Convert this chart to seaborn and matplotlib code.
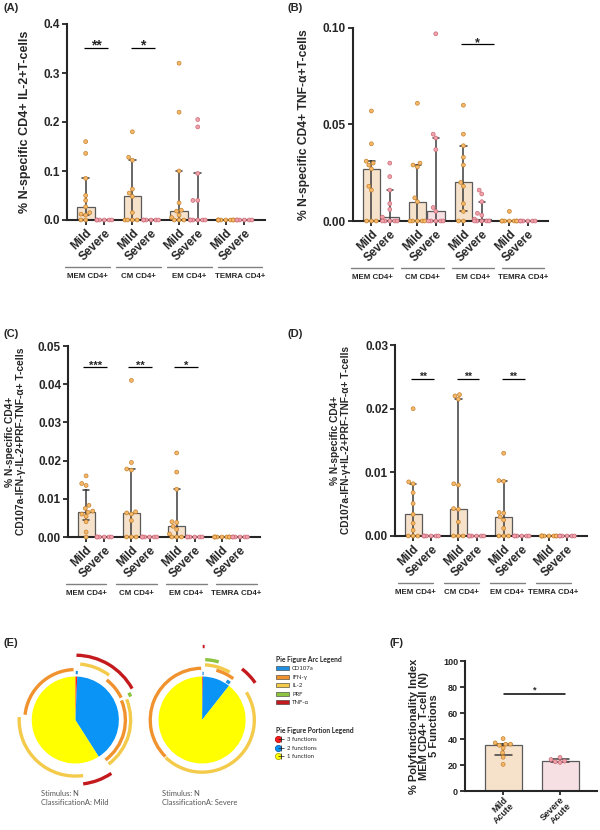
import numpy as np
import pandas as pd
import matplotlib
matplotlib.use("Agg")
import matplotlib.pyplot as plt
import seaborn as sns
from matplotlib.patches import Arc, Patch
from matplotlib.lines import Line2D
from matplotlib.legend_handler import HandlerTuple
from matplotlib.transforms import offset_copy
from matplotlib.ticker import FormatStrFormatter, MultipleLocator
from matplotlib.colors import to_rgb

# Subconjuntos e grupos
subsets = ["MEM CD4+", "CM CD4+", "EM CD4+", "TEMRA CD4+"]
groups = ["Mild", "Severe"]

# (A) IL-2+
il2_mild = [
    [0.16, 0.136, 0.085, 0.05, 0.04, 0.027, 0.015, 0.012, 0.01, 0.0, 0.0],
    [0.18, 0.128, 0.122, 0.063, 0.055, 0.048, 0.015, 0.0, 0.0, 0.0, 0.0],
    [0.32, 0.22, 0.1, 0.035, 0.02, 0.018, 0.01, 0.005, 0.0, 0.0, 0.0],
    [0.0, 0.0, 0.0, 0.0, 0.0, 0.0, 0.0, 0.0],
]
il2_severe = [
    [0.0, 0.0, 0.0, 0.0, 0.0, 0.0],
    [0.0, 0.0, 0.0, 0.0, 0.0, 0.0],
    [0.205, 0.19, 0.095, 0.04, 0.04, 0.0, 0.0, 0.0, 0.0, 0.0, 0.0],
    [0.0, 0.0, 0.0, 0.0, 0.0, 0.0],
]
il2_sig = ["**", "*", "", ""]

# (B) TNF-a+
tnf_mild = [
    [0.057, 0.040, 0.031, 0.030, 0.029, 0.027, 0.018, 0.016, 0.0, 0.0, 0.0],
    [0.061, 0.030, 0.029, 0.028, 0.012, 0.010, 0.0, 0.0, 0.0, 0.0, 0.0],
    [0.060, 0.045, 0.039, 0.033, 0.029, 0.020, 0.018, 0.009, 0.005, 0.0, 0.0],
    [0.005, 0.0, 0.0, 0.0, 0.0, 0.0, 0.0, 0.0],
]
tnf_severe = [
    [0.030, 0.023, 0.016, 0.009, 0.006, 0.002, 0.0, 0.0, 0.0, 0.0, 0.0],
    [0.097, 0.045, 0.043, 0.037, 0.007, 0.005, 0.0, 0.0, 0.0, 0.0, 0.0],
    [0.016, 0.014, 0.010, 0.004, 0.003, 0.001, 0.0, 0.0, 0.0, 0.0, 0.0],
    [0.0, 0.0, 0.0, 0.0, 0.0, 0.0],
]
tnf_sig = ["", "", "*", ""]

# (C) CD107a-IFN-g-IL-2+PRF-TNF-a+
c_mild = [
    [0.016, 0.014, 0.0135, 0.0083, 0.0075, 0.0068, 0.0065, 0.006, 0.0054, 0.004, 0.0013, 0.0],
    [0.041, 0.0195, 0.0178, 0.0175, 0.0066, 0.0063, 0.006, 0.0043, 0.0, 0.0, 0.0],
    [0.022, 0.017, 0.0125, 0.004, 0.0038, 0.0028, 0.002, 0.0008, 0.0, 0.0, 0.0],
    [0.0, 0.0, 0.0, 0.0, 0.0, 0.0, 0.0, 0.0],
]
c_severe = [
    [0.0, 0.0, 0.0, 0.0, 0.0, 0.0],
    [0.0, 0.0, 0.0, 0.0, 0.0, 0.0],
    [0.0, 0.0, 0.0, 0.0, 0.0, 0.0],
    [0.0, 0.0, 0.0, 0.0, 0.0, 0.0],
]
c_sig = ["***", "**", "*", ""]

# (D) CD107a-IFN-g+IL-2+PRF-TNF-a+
d_mild = [
    [0.020, 0.0085, 0.0082, 0.0068, 0.0051, 0.0034, 0.002, 0.0009, 0.0, 0.0, 0.0],
    [0.0222, 0.022, 0.0215, 0.0082, 0.008, 0.0043, 0.0042, 0.0022, 0.0, 0.0, 0.0],
    [0.013, 0.0087, 0.0086, 0.0037, 0.0036, 0.003, 0.0025, 0.0012, 0.0, 0.0, 0.0],
    [0.0, 0.0, 0.0, 0.0, 0.0, 0.0, 0.0, 0.0],
]
d_severe = [
    [0.0, 0.0, 0.0, 0.0, 0.0, 0.0],
    [0.0, 0.0, 0.0, 0.0, 0.0, 0.0],
    [0.0, 0.0, 0.0, 0.0, 0.0, 0.0],
    [0.0, 0.0, 0.0, 0.0, 0.0, 0.0],
]
d_sig = ["**", "**", "**", ""]

# (E) pizzas SPICE
portion_labels = ["3 functions", "2 functions", "1 function"]
pie_mild = [0.7, 40.3, 59.0]
pie_severe = [0.3, 10.3, 89.4]
arc_funcs = ["CD107a", "IFN-γ", "IL-2", "PRF", "TNF-α"]
# arcos: funcao, inicio e fim (graus, horario a partir do topo), anel
arc_mild_func = ["CD107a", "IFN-γ", "IL-2", "TNF-α", "IFN-γ", "PRF", "IFN-γ", "IL-2", "TNF-α", "IL-2"]
arc_mild_start = [0.5, 276, 5, 1, 38, 63, 67, 68, 146, 172]
arc_mild_end = [3, 358, 37, 61, 64, 67, 143, 143, 173, 273]
arc_mild_ring = [1.09, 1.16, 1.29, 1.49, 1.17, 1.38, 1.15, 1.27, 1.48, 1.29]
arc_severe_func = ["CD107a", "IFN-γ", "IL-2", "IL-2", "IFN-γ", "CD107a", "PRF", "TNF-α", "TNF-α"]
arc_severe_start = [0.5, 225, 58, 3, 16, 32, 3, 38, 0.5]
arc_severe_end = [2, 359, 224, 30, 37, 37, 16, 55, 2]
arc_severe_ring = [1.07, 1.19, 1.2, 1.27, 1.19, 1.06, 1.39, 1.49, 1.69]

# (F) indice de polifuncionalidade
poly_labels = ["Mild\nAcute", "Severe\nAcute"]
poly_mild = [40.3, 37.0, 36.0, 36.0, 35.2, 33.0, 29.5, 26.0, 20.5]
poly_severe = [25.8, 24.2, 23.0, 22.5, 22.0]

# Estilo
sns.set_style("ticks")
plt.rcParams["font.family"] = ["Liberation Sans", "DejaVu Sans"]
plt.rcParams["font.weight"] = "bold"
plt.rcParams["axes.labelweight"] = "bold"

bar_colors = {"Mild": "#FDE2C4", "Severe": "#FBDCE1"}
dot_colors = {"Mild": "#F7B867", "Severe": "#F2A2AB"}
dot_edges = {"Mild": "#C4812F", "Severe": "#C96B78"}
portion_colors = ["#FF1A1A", "#0A94F5", "#FFFF00"]
portion_edges = ["#A00000", "#0050A0", "#A0A000"]
arc_colors = {"CD107a": "#1E8FE1", "IFN-γ": "#F0922E", "IL-2": "#F4CA4A",
              "PRF": "#8CC440", "TNF-α": "#C41A1E"}


def iqr(v):
    return (np.percentile(v, 25, method="weibull"), np.percentile(v, 75, method="weibull"))


def long_table(mild, severe):
    rows = []
    for g, subset in enumerate(subsets):
        for k, vals in enumerate((mild[g], severe[g])):
            for v in vals:
                rows.append({"subset": subset, "group": groups[k], "pos": g * 2.5 + k, "value": v})
    return pd.DataFrame(rows)


fig = plt.figure(figsize=(6, 8.3), dpi=100)


def add_ax(left, top, right, bottom):
    return fig.add_axes([left / 600, 1 - bottom / 830, (right - left) / 600, (bottom - top) / 830])


def recolor_dots(ax):
    for coll in ax.collections:
        fc = coll.get_facecolors()
        if len(fc) == 0:
            continue
        for grp in groups:
            if np.allclose(fc[0][:3], to_rgb(dot_colors[grp]), atol=0.02):
                coll.set_edgecolor(dot_edges[grp])
        coll.set_clip_on(False)
        coll.set_zorder(3)


def style_axis(ax, labelsize):
    sns.despine(ax=ax)
    for s in ("left", "bottom"):
        ax.spines[s].set_linewidth(1.5)
    ax.tick_params(width=1.3, length=3.5, labelsize=labelsize, pad=1.5)


def bar_panel(ax, mild, severe, ymax, step, fmt, ylabel, label_x, label_size,
              sig, sig_y, sig_size, sig_span, line_shift, line_half):
    data = long_table(mild, severe)
    sns.barplot(data=data, x="pos", y="value", hue="group", hue_order=groups,
                palette=bar_colors, native_scale=True, dodge=False, width=0.95,
                estimator=np.median, errorbar=iqr, capsize=0.35,
                err_kws={"color": "#3d3d3d", "linewidth": 1.1},
                edgecolor="#5a5a5a", linewidth=0.9, legend=False, ax=ax)
    sns.swarmplot(data=data, x="pos", y="value", hue="group", hue_order=groups,
                  palette=dot_colors, native_scale=True, dodge=False, size=2.8,
                  linewidth=0.5, legend=False, warn_thresh=1, ax=ax)
    recolor_dots(ax)

    for g, stars in enumerate(sig):
        if not stars:
            continue
        x0, x1 = g * 2.5 + sig_span[0], g * 2.5 + sig_span[1]
        ax.plot([x0, x1], [sig_y, sig_y], color="black", lw=0.9, solid_capstyle="butt")
        ax.annotate(stars, ((x0 + x1) / 2, sig_y), xytext=(0, -1), textcoords="offset points",
                    ha="center", va="baseline", fontsize=sig_size)

    line_tr = offset_copy(ax.get_xaxis_transform(), fig=fig, y=-34, units="points")
    text_tr = offset_copy(ax.get_xaxis_transform(), fig=fig, y=-40.5, units="points")
    for g, name in enumerate(subsets):
        c = g * 2.5 + line_shift[0] + line_shift[1] * g
        ax.plot([c - line_half, c + line_half], [0, 0], transform=line_tr,
                color="#808080", lw=1.0, clip_on=False)
        ax.text(c, 0, name, transform=text_tr, ha="center", va="center", fontsize=5.7)

    positions = [g * 2.5 + k for g in range(len(subsets)) for k in range(2)]
    ax.set_xticks(positions)
    ax.set_xticklabels(groups * len(subsets), rotation=45, ha="right",
                       rotation_mode="anchor", fontsize=9)
    ax.set_xlim(-1.0, 9.6)
    ax.set_ylim(0, ymax)
    ax.yaxis.set_major_locator(MultipleLocator(step))
    ax.yaxis.set_major_formatter(FormatStrFormatter(fmt))
    ax.set_xlabel("")
    ax.set_ylabel(ylabel, fontsize=label_size)
    ax.yaxis.set_label_coords(label_x, 0.5)
    style_axis(ax, 8.5)


ax_a = add_ax(67, 24, 265, 220)
bar_panel(ax_a, il2_mild, il2_severe, 0.4, 0.1, "%.1f",
          "% N-specific CD4+ IL-2+T-cells", -0.18, 9,
          il2_sig, 0.35, 10, (-0.1, 1.2), (0.1, 0.22), 1.2)

ax_b = add_ax(353, 28, 548, 221)
bar_panel(ax_b, tnf_mild, tnf_severe, 0.10, 0.05, "%.2f",
          "% N-specific CD4+ TNF-α+T-cells", -0.222, 8.7,
          tnf_sig, 0.0915, 9, (-0.15, 1.65), (0.03, 0.24), 1.15)

ax_c = add_ax(68, 346, 260, 537)
bar_panel(ax_c, c_mild, c_severe, 0.05, 0.01, "%.2f",
          "% N-specific CD4+\nCD107a-IFN-γ-IL-2+PRF-TNF-α+ T-cells", -0.217, 7.4,
          c_sig, 0.0445, 8, (-0.16, 1.16), (0.0, 0.27), 1.12)

ax_d = add_ax(395, 345, 587, 536)
bar_panel(ax_d, d_mild, d_severe, 0.03, 0.01, "%.2f",
          "% N-specific CD4+\nCD107a-IFN-γ+IL-2+PRF-TNF-α+ T-cells", -0.227, 7.3,
          d_sig, 0.0247, 7.5, (-0.1, 1.16), (0.14, 0.04), 0.97)

# (E) pizzas
ax_e = add_ax(10, 650, 270, 790)
pies = [
    (0.0, pie_mild, arc_mild_func, arc_mild_start, arc_mild_end, arc_mild_ring),
    (2.91, pie_severe, arc_severe_func, arc_severe_start, arc_severe_end, arc_severe_ring),
]
for cx, shares, funcs, starts, ends, rings in pies:
    ax_e.pie(shares, colors=portion_colors, startangle=90, counterclock=False,
             center=(cx, 0), radius=1, wedgeprops={"linewidth": 0})
    for func, a0, a1, r in zip(funcs, starts, ends, rings):
        ax_e.add_patch(Arc((cx, 0), 2 * r, 2 * r, theta1=90 - a1, theta2=90 - a0,
                           edgecolor=arc_colors[func], lw=2.4, clip_on=False))
ax_e.set_xlim(-1.5, 4.47)
ax_e.set_ylim(-1.61, 1.61)
ax_e.set_aspect("auto")
ax_e.axis("off")

fig.text(41 / 600, 1 - 790 / 830, "Stimulus: N\nClassificationA: Mild", va="top", ha="left",
         fontsize=5.4, family="Lato", fontweight="normal", color="#555555", linespacing=1.3)
fig.text(162 / 600, 1 - 790 / 830, "Stimulus: N\nClassificationA: Severe", va="top", ha="left",
         fontsize=5.4, family="Lato", fontweight="normal", color="#555555", linespacing=1.3)

arc_handles = [Patch(facecolor=arc_colors[f], edgecolor="#333333", linewidth=0.4) for f in arc_funcs]
fig.legend(arc_handles, arc_funcs, title="Pie Figure Arc Legend", loc="upper left",
           bbox_to_anchor=(276 / 600, 1 - 656 / 830), frameon=False,
           prop={"family": "Lato", "size": 4.3, "weight": "normal"},
           title_fontproperties={"family": "Lato", "size": 4.9, "weight": "bold"},
           alignment="left", handlelength=2.2, handleheight=0.7, labelspacing=0.55,
           handletextpad=0.5, borderpad=0, borderaxespad=0)
portion_handles = [
    (Line2D([], [], marker="o", ls="", ms=4.5, markerfacecolor=c, markeredgecolor=e, mew=0.5),
     Line2D([], [], marker="+", ls="", ms=4.5, color="#222222", mew=0.5))
    for c, e in zip(portion_colors, portion_edges)
]
fig.legend(portion_handles, portion_labels, title="Pie Figure Portion Legend", loc="upper left",
           bbox_to_anchor=(276 / 600, 1 - 727 / 830), frameon=False,
           handler_map={tuple: HandlerTuple(ndivide=None)},
           prop={"family": "Lato", "size": 4.3, "weight": "normal"},
           title_fontproperties={"family": "Lato", "size": 4.9, "weight": "bold"},
           alignment="left", handlelength=1.2, labelspacing=0.55,
           handletextpad=0.6, borderpad=0, borderaxespad=0)

# (F)
ax_f = add_ax(465, 661, 597, 791)
poly = pd.DataFrame({
    "group": ["Mild"] * len(poly_mild) + ["Severe"] * len(poly_severe),
    "value": poly_mild + poly_severe,
})
sns.barplot(data=poly, x="group", y="value", hue="group", order=groups, hue_order=groups,
            palette=bar_colors, width=0.65, estimator=np.median, errorbar=iqr, capsize=0.3,
            err_kws={"color": "#3d3d3d", "linewidth": 1.1},
            edgecolor="#5a5a5a", linewidth=0.9, legend=False, ax=ax_f)
sns.swarmplot(data=poly, x="group", y="value", hue="group", order=groups, hue_order=groups,
              palette=dot_colors, size=2.8, linewidth=0.5, legend=False, ax=ax_f)
recolor_dots(ax_f)
ax_f.plot([0.02, 1.09], [75, 75], color="black", lw=1.1)
ax_f.annotate("*", (0.555, 75), xytext=(0, 1), textcoords="offset points",
              ha="center", va="baseline", fontsize=6.5)
ax_f.set_xlim(-0.67, 1.65)
ax_f.set_ylim(0, 100)
ax_f.yaxis.set_major_locator(MultipleLocator(20))
ax_f.set_xticks([0, 1])
ax_f.set_xticklabels(poly_labels, rotation=45, ha="right", rotation_mode="anchor",
                     fontsize=4.2, linespacing=1.0)
ax_f.set_xlabel("")
ax_f.set_ylabel("% Polyfunctionality Index\nMEM CD4+ T-cell (N)\n5 Functions", fontsize=8,
                linespacing=0.95)
ax_f.yaxis.set_label_coords(-0.2, 0.5)
style_axis(ax_f, 6.5)
ax_f.tick_params(axis="x", pad=0, length=3)

# Letras dos paineis
for letter, x, y in [("(A)", 3, 8), ("(B)", 287, 8), ("(C)", 3, 334),
                     ("(D)", 287, 334), ("(E)", 3, 643), ("(F)", 390, 643)]:
    fig.text(x / 600, 1 - y / 830, letter, fontsize=8, va="center", ha="left")

fig.savefig("out.png", dpi=100)
